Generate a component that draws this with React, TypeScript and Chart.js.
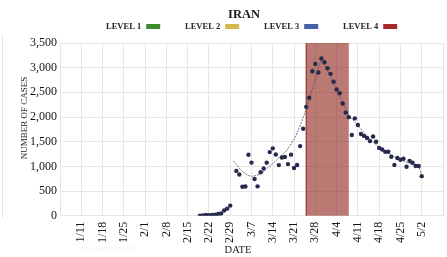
import React, { useEffect, useRef } from 'react';
import { Chart, registerables } from 'chart.js';

Chart.register(...registerables);

// ---------- text ----------
const chartTitle = 'IRAN';
const yAxisTitle = 'NUMBER OF CASES';
const xAxisTitle = 'DATE';
const footNote = '0 CASES IN IRAN';
const levelLabels = ['LEVEL 1', 'LEVEL 2', 'LEVEL 3', 'LEVEL 4'];
const levelColors = ['#3b8a2b', '#d6b74e', '#4561a6', '#a8292a'];

// ---------- axes ----------
const axisStart = '1/4';
const axisEnd = '5/9';
const tickStepDays = 7;
const yMin = 0;
const yMax = 3500;
const yStep = 500;

// ---------- data: daily new cases, one per day from firstCaseDate ----------
const firstCaseDate = '2/19';
const dailyCases: (number | null)[] = [
  2, 3, 13, 10, 15, 18, 34, 44, 106, 143, 205,
  null, 908, 835, 586, 591, 1234, 1076, 743, 595, 881, 958, 1075, 1289, 1365, 1240,
  1025, 1178, 1192, 1046, 1237, 966, 1028, 1411, 1762, 2206, 2389, 2926, 3076, 2901,
  3186, 3110,
  2987, 2875, 2715, 2560, 2483, 2274, 2089, 1997, 1634, 1972, 1837, 1657, 1617, 1574,
  1512, 1606, 1499, 1374, 1343, 1294, 1297, 1194, 1030, 1168, 1134, 1153, 991, 1112,
  1073, 1006,
  1006, 802,
];

// ---------- trend lines ----------
const trendEarlyDates = ['3/1', '3/4', '3/7', '3/10', '3/13', '3/16', '3/19', '3/22', '3/25'];
const trendEarlyValues = [1110, 900, 800, 855, 1005, 1170, 1360, 1680, 2150];
const trendPeakDates = ['3/25', '3/30', '4/8'];
const trendPeakValues = [2150, 3200, 2040];
const trendLateDates = ['4/8', '4/11', '4/14', '4/17', '4/20', '4/23', '4/26', '4/29', '5/1', '5/2'];
const trendLateValues = [2040, 1830, 1620, 1440, 1310, 1190, 1110, 1040, 990, 810];

// ---------- level 4 period ----------
const level4Band = ['3/25', '4/8'];

// ---------- helpers ----------
const monthStart = [0, 31, 60, 91, 121, 152]; // 2020 (leap year) day-of-year of each month start
const baseDoy = (() => {
  const [m, d] = axisStart.split('/').map(Number);
  return monthStart[m - 1] + d;
})();
function dayIndex(s: string): number {
  const [m, d] = s.split('/').map(Number);
  return monthStart[m - 1] + d - baseDoy;
}
function dayLabel(v: number): string {
  const doy = v + baseDoy;
  let m = 0;
  while (m + 1 < monthStart.length && monthStart[m + 1] < doy) m++;
  return `${m + 1}/${doy - monthStart[m]}`;
}

const SERIF = "'Liberation Serif', 'Times New Roman', serif";

export default function App() {
  const ref = useRef<HTMLCanvasElement>(null);

  useEffect(() => {
    const start = dayIndex(firstCaseDate);
    const casePoints = dailyCases.map((v, i) => ({ x: start + i, y: v }));
    const toPts = (dates: string[], vals: number[]) =>
      dates.map((d, i) => ({ x: dayIndex(d), y: vals[i] }));

    const decor = {
      id: 'decor',
      beforeDatasetsDraw(chart: any) {
        const { ctx, chartArea, scales } = chart;
        const xs = scales.x;
        const x0 = xs.getPixelForValue(dayIndex(level4Band[0]));
        const x1 = xs.getPixelForValue(dayIndex(level4Band[1]));
        ctx.save();
        ctx.fillStyle = 'rgba(140,32,22,0.6)';
        ctx.fillRect(x0, chartArea.top, x1 - x0, chartArea.bottom - chartArea.top);
        ctx.strokeStyle = '#94342c';
        ctx.lineWidth = 1.2;
        ctx.beginPath();
        ctx.moveTo(x0, chartArea.top);
        ctx.lineTo(x0, chartArea.bottom);
        ctx.stroke();
        ctx.restore();
      },
      afterDraw(chart: any) {
        const { ctx } = chart;
        ctx.save();
        // faint left frame line
        ctx.strokeStyle = '#e4e4e4';
        ctx.lineWidth = 1;
        ctx.beginPath();
        ctx.moveTo(2.5, 34);
        ctx.lineTo(2.5, 218);
        ctx.stroke();

        // title
        ctx.fillStyle = '#1a1a1a';
        ctx.textAlign = 'center';
        ctx.textBaseline = 'middle';
        ctx.font = `bold 12.5px ${SERIF}`;
        ctx.fillText(chartTitle, 244, 14.5);

        // legend: text then box
        ctx.font = `bold 8.5px ${SERIF}`;
        ctx.textAlign = 'left';
        levelLabels.forEach((lab, i) => {
          const lx = 106 + i * 79;
          ctx.fillStyle = '#222';
          ctx.fillText(lab, lx, 26.5);
          const w = ctx.measureText(lab).width;
          ctx.fillStyle = levelColors[i];
          ctx.fillRect(lx + w + 5, 24, 14, 5);
        });

        // y axis title
        ctx.fillStyle = '#1a1a1a';
        ctx.font = `9px ${SERIF}`;
        ctx.textAlign = 'center';
        ctx.save();
        ctx.translate(24.5, 118);
        ctx.rotate(-Math.PI / 2);
        ctx.fillText(yAxisTitle, 0, 0);
        ctx.restore();

        // x axis title
        ctx.font = `10.5px ${SERIF}`;
        ctx.fillText(xAxisTitle, 238, 250);

        // faint footnote
        ctx.fillStyle = '#ececec';
        ctx.font = `7px ${SERIF}`;
        ctx.textAlign = 'left';
        ctx.fillText(footNote, 80, 249);
        ctx.restore();
      },
    };

    const trendStyle = {
      type: 'line' as const,
      borderColor: 'rgba(85,85,100,0.8)',
      borderWidth: 1,
      borderDash: [2, 1],
      pointRadius: 0,
      fill: false,
      cubicInterpolationMode: 'monotone' as const,
    };

    const chart = new Chart(ref.current!, {
      type: 'scatter',
      data: {
        datasets: [
          {
            label: 'cases',
            data: casePoints as any,
            backgroundColor: '#262b4d',
            borderColor: '#262b4d',
            borderWidth: 0,
            pointRadius: 2.2,
            showLine: false,
          },
          { ...trendStyle, label: 'trend1', data: toPts(trendEarlyDates, trendEarlyValues) } as any,
          { ...trendStyle, label: 'trend2', data: toPts(trendPeakDates, trendPeakValues), cubicInterpolationMode: 'default', tension: 0 } as any,
          { ...trendStyle, label: 'trend3', data: toPts(trendLateDates, trendLateValues) } as any,
        ],
      },
      options: {
        animation: false,
        responsive: true,
        maintainAspectRatio: false,
        layout: { padding: { top: 43, left: 8, right: 2, bottom: 0 } },
        plugins: {
          legend: { display: false },
          title: { display: false },
          tooltip: { enabled: false },
        },
        scales: {
          x: {
            type: 'linear',
            min: dayIndex(axisStart),
            max: dayIndex(axisEnd),
            grid: { color: '#e6e6e6', drawTicks: false, lineWidth: 1 },
            border: { display: false },
            ticks: {
              stepSize: tickStepDays,
              autoSkip: false,
              minRotation: 90,
              maxRotation: 90,
              padding: 6,
              color: '#151515',
              font: { family: SERIF, size: 12 },
              callback: (v: any) => {
                const n = Number(v);
                if (n === dayIndex(axisStart) || n === dayIndex(axisEnd)) return '';
                return dayLabel(n);
              },
            },
            afterFit: (s: any) => {
              s.height = 41.3;
              s.paddingLeft = 0;
              s.paddingRight = 0;
            },
          },
          y: {
            min: yMin,
            max: yMax,
            grid: { color: '#e6e6e6', drawTicks: false, lineWidth: 1 },
            border: { display: false },
            ticks: {
              stepSize: yStep,
              padding: 3,
              color: '#151515',
              font: { family: SERIF, size: 12 },
              callback: (v: any) => Number(v).toLocaleString('en-US'),
            },
            afterFit: (s: any) => {
              s.width = 52;
              s.paddingTop = 0;
              s.paddingBottom = 0;
            },
          },
        },
      },
      plugins: [decor],
    });
    return () => chart.destroy();
  }, []);

  return (
    <div style={{ position: 'fixed', left: 0, top: 0, width: 447, height: 257, background: '#fff' }}>
      <canvas ref={ref} />
    </div>
  );
}
